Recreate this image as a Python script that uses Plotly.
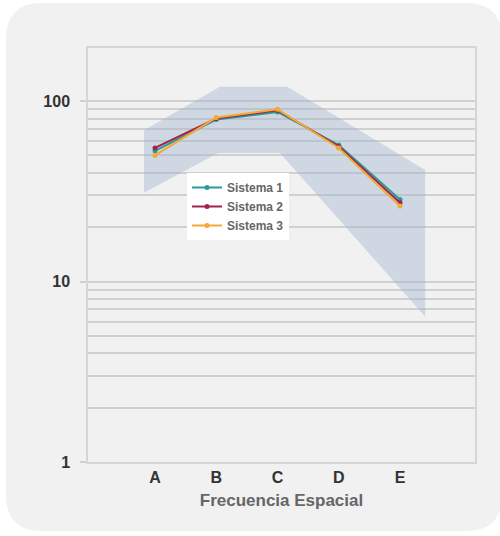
import plotly.graph_objects as go

categories = ["A", "B", "C", "D", "E"]
cat_pos = [0, 1, 2, 3, 4]
sistema1 = [53, 79, 87, 57, 28.5]
sistema2 = [55, 80, 89, 56, 27.3]
sistema3 = [50, 81, 90, 55, 26.2]

band_upper_x = [-0.18, 1.06, 2.16, 4.41]
band_upper_y = [69, 120, 120, 41.5]
band_lower_x = [-0.18, 1.03, 2.04, 4.41]
band_lower_y = [31, 51.5, 51.5, 6.4]

major_ticks = [1, 10, 100]
minor_ticks = [2, 3, 4, 5, 6, 7, 8, 9, 20, 30, 40, 50, 60, 70, 80, 90]

W, H = 500, 536
L, R, T, B = 88, 25, 48, 74
pw, ph = W - L - R, H - T - B

def px(x):
    return (x - L) / pw

def py(y):
    return (H - B - y) / ph

# rounded panel path (pixel geometry converted to paper coords)
x0, x1, y0, y1, r = 6, 502, 3, 531, 36
pts = [
    ("M", (x0 + r, y0)), ("L", (x1 - r, y0)), ("Q", (x1, y0), (x1, y0 + r)),
    ("L", (x1, y1 - r)), ("Q", (x1, y1), (x1 - r, y1)),
    ("L", (x0 + r, y1)), ("Q", (x0, y1), (x0, y1 - r)),
    ("L", (x0, y0 + r)), ("Q", (x0, y0), (x0 + r, y0)),
]
path = ""
for p in pts:
    cmd = p[0]
    coords = " ".join(f"{px(a):.5f},{py(b):.5f}" for a, b in p[1:])
    path += f"{cmd} {coords} "
path += "Z"

fig = go.Figure()

fig.add_trace(go.Scatter(
    x=band_upper_x + band_lower_x[::-1],
    y=band_upper_y + band_lower_y[::-1],
    fill="toself", fillcolor="rgba(160,180,205,0.42)",
    line=dict(width=0), mode="lines", showlegend=False, hoverinfo="skip",
))

series = [("Sistema 1", sistema1, "#2b9a9c"),
          ("Sistema 2", sistema2, "#a3224b"),
          ("Sistema 3", sistema3, "#f2a935")]
for name, vals, col in series:
    fig.add_trace(go.Scatter(
        x=cat_pos, y=vals, name=name, mode="lines+markers",
        line=dict(color=col, width=2), marker=dict(color=col, size=5),
    ))

fig.add_shape(type="path", path=path, xref="paper", yref="paper",
              fillcolor="#f1f1f1", line=dict(width=0), layer="below")

fig.update_layout(
    width=W, height=H,
    margin=dict(l=L, r=R, t=T, b=B),
    paper_bgcolor="white", plot_bgcolor="rgba(0,0,0,0)",
    font=dict(family="Liberation Sans, Arial, sans-serif", color="#333"),
    legend=dict(x=px(187), y=py(173), xanchor="left", yanchor="top",
                bgcolor="white", font=dict(size=12, color="#666", weight="bold"),
                itemwidth=30, tracegroupgap=0),
    showlegend=True,
)
fig.update_xaxes(
    range=[(88 - 155) / 61.25, (475 - 155) / 61.25],
    tickvals=cat_pos, ticktext=categories,
    tickfont=dict(size=16, color="#333", weight="bold"),
    showgrid=False, zeroline=False,
    showline=True, linecolor="#d6d6d6", linewidth=1.5, mirror=True,
    ticks="", title=dict(text="Frecuencia Espacial",
                         font=dict(size=17, color="#666", weight="bold"), standoff=9),
)
fig.update_yaxes(
    type="log", range=[0, 2.294],
    tickvals=major_ticks, ticktext=[str(v) for v in major_ticks],
    tickfont=dict(size=16, color="#333", weight="bold"),
    ticks="outside", ticklen=6, tickcolor="#cfcfcf", tickwidth=1.5,
    ticklabelstandoff=7,
    showgrid=True, gridcolor="#d0d0d0", gridwidth=1.5,
    minor=dict(tickvals=minor_ticks, showgrid=True, gridcolor="#d0d0d0", gridwidth=1.5, ticks=""),
    zeroline=False,
    showline=True, linecolor="#d6d6d6", linewidth=1.5, mirror=True,
)

fig.write_html("out.html", post_script="document.body.style.margin='0';",
               config={"displayModeBar": False})
